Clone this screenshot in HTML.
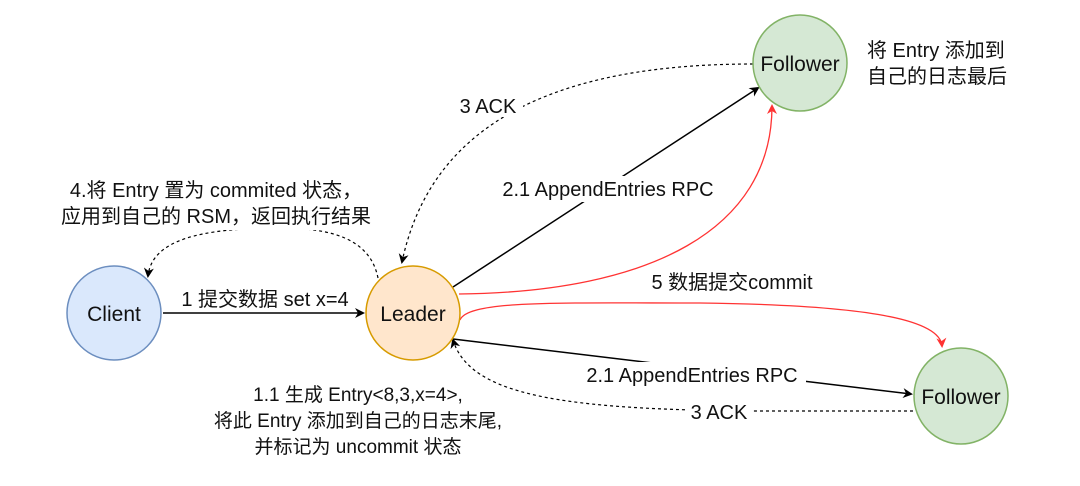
<!DOCTYPE html>
<html><head><meta charset="utf-8"><style>
html,body{margin:0;padding:0;background:#fff;}
svg text{font-family:"Liberation Sans","Noto Sans CJK SC",sans-serif;font-size:19px;fill:#111;}
svg text.n{font-size:21px;}
svg text.l{font-size:20px;}
</style></head><body>
<svg width="1080" height="481" viewBox="0 0 1080 481" xmlns="http://www.w3.org/2000/svg">
<defs>
<marker id="ab" markerWidth="10" markerHeight="10" refX="8" refY="5" orient="auto" markerUnits="userSpaceOnUse"><path d="M0,0 L10,5 L0,10 L3,5 z" fill="#000"/></marker>
<marker id="ar" markerWidth="10" markerHeight="10" refX="8" refY="5" orient="auto" markerUnits="userSpaceOnUse"><path d="M0,0 L10,5 L0,10 L3,5 z" fill="#f33"/></marker>
</defs>
<line x1="163" y1="313" x2="363" y2="313" stroke="#000" stroke-width="1.5" marker-end="url(#ab)"/>
<line x1="453" y1="287" x2="758" y2="88" stroke="#000" stroke-width="1.5" marker-end="url(#ab)"/>
<line x1="453" y1="339" x2="911" y2="394" stroke="#000" stroke-width="1.5" marker-end="url(#ab)"/>
<path d="M459,294 C650,292 772,230 772,106" fill="none" stroke="#f33" stroke-width="1.3" marker-end="url(#ar)"/>
<path d="M460,320 C468,300 560,303 700,303 C870,305 940,320 942,346" fill="none" stroke="#f33" stroke-width="1.3" marker-end="url(#ar)"/>
<path d="M753,64 C560,64 432,120 402,262" fill="none" stroke="#000" stroke-width="1.2" stroke-dasharray="3,3" marker-end="url(#ab)"/>
<path d="M913,411 L760,411 C560,410 470,395 453,340" fill="none" stroke="#000" stroke-width="1.2" stroke-dasharray="3,3" marker-end="url(#ab)"/>
<path d="M378,278 C370,238 330,228 280,228 C200,228 152,240 148,276" fill="none" stroke="#000" stroke-width="1.2" stroke-dasharray="3,3" marker-end="url(#ab)"/>
<rect x="492" y="176" width="232" height="26" fill="#fff"/>
<rect x="578" y="362" width="228" height="26" fill="#fff"/>
<rect x="643" y="268" width="178" height="24" fill="#fff"/>
<rect x="686" y="400" width="66" height="24" fill="#fff"/>
<rect x="453" y="93" width="70" height="24" fill="#fff"/>
<rect x="55" y="178" width="322" height="52" fill="#fff"/>
<circle cx="114" cy="313" r="47" fill="#dae8fc" stroke="#6c8ebf" stroke-width="1.5"/>
<circle cx="413" cy="313" r="47" fill="#ffe6cc" stroke="#d79b00" stroke-width="1.5"/>
<ellipse cx="800" cy="63" rx="47" ry="48" fill="#d5e8d4" stroke="#82b366" stroke-width="1.5"/>
<ellipse cx="961" cy="396" rx="47" ry="48" fill="#d5e8d4" stroke="#82b366" stroke-width="1.5"/>
<text class="n" x="114" y="321" text-anchor="middle">Client</text>
<text class="n" x="413" y="321" text-anchor="middle">Leader</text>
<text class="n" x="800" y="71" text-anchor="middle">Follower</text>
<text class="n" x="961" y="404" text-anchor="middle">Follower</text>
<text class="l" x="265" y="306" text-anchor="middle">1 提交数据 set x=4</text>
<text class="l" x="608" y="196" text-anchor="middle">2.1 AppendEntries RPC</text>
<text class="l" x="692" y="382" text-anchor="middle">2.1 AppendEntries RPC</text>
<text class="l" x="732" y="289" text-anchor="middle">5 数据提交commit</text>
<text class="l" x="488" y="113" text-anchor="middle">3 ACK</text>
<text class="l" x="719" y="419" text-anchor="middle">3 ACK</text>
<text class="l" x="216" y="197" text-anchor="middle">4.将 Entry 置为 commited 状态，</text>
<text class="l" x="216" y="223" text-anchor="middle">应用到自己的 RSM，返回执行结果</text>
<text x="358" y="401" text-anchor="middle">1.1 生成 Entry&lt;8,3,x=4&gt;,</text>
<text x="358" y="427" text-anchor="middle">将此 Entry 添加到自己的日志末尾,</text>
<text x="358" y="453" text-anchor="middle">并标记为 uncommit 状态</text>
<text class="l" x="867" y="57">将 Entry 添加到</text>
<text class="l" x="867" y="83">自己的日志最后</text>
</svg>
</body></html>
